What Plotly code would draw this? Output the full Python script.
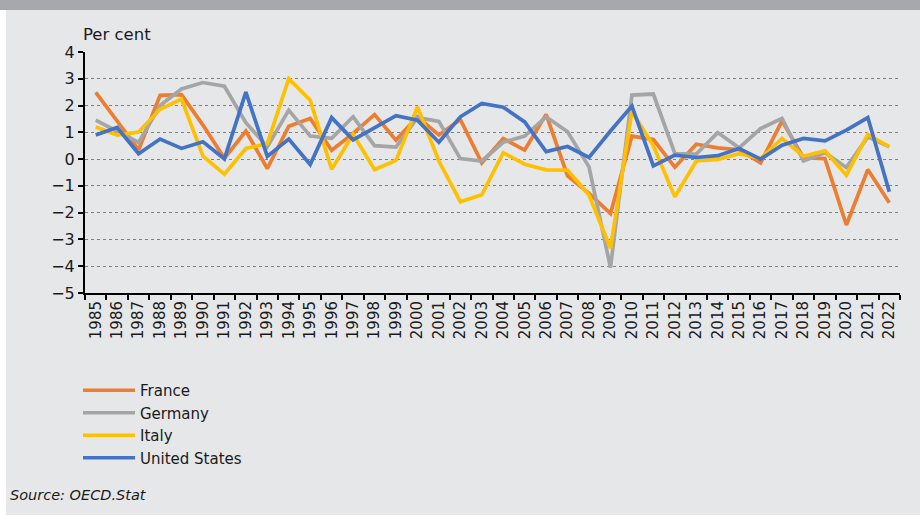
import plotly.graph_objects as go

years = ["1985", "1986", "1987", "1988", "1989", "1990", "1991", "1992", "1993", "1994",
         "1995", "1996", "1997", "1998", "1999", "2000", "2001", "2002", "2003", "2004",
         "2005", "2006", "2007", "2008", "2009", "2010", "2011", "2012", "2013", "2014",
         "2015", "2016", "2017", "2018", "2019", "2020", "2021", "2022"]

france = [2.49, 1.42, 0.35, 2.38, 2.41, 1.27, 0.03, 1.05, -0.35, 1.23,
          1.52, 0.33, 0.96, 1.66, 0.71, 1.58, 0.90, 1.48, -0.14, 0.77,
          0.34, 1.67, -0.63, -1.28, -2.03, 0.86, 0.73, -0.30, 0.56, 0.42,
          0.35, -0.14, 1.43, 0.05, 0.02, -2.46, -0.39, -1.63]

germany = [1.46, 1.05, 0.62, 2.00, 2.62, 2.86, 2.72, 1.36, 0.46, 1.83,
           0.86, 0.78, 1.58, 0.50, 0.45, 1.55, 1.41, 0.02, -0.07, 0.63,
           0.86, 1.58, 1.02, -0.29, -4.05, 2.39, 2.43, 0.21, 0.19, 0.99,
           0.42, 1.14, 1.52, -0.07, 0.24, -0.31, 0.83, 0.46]

italy = [1.20, 0.90, 1.01, 1.86, 2.24, 0.11, -0.56, 0.40, 0.58, 3.00,
         2.20, -0.38, 0.93, -0.39, -0.05, 1.95, -0.07, -1.59, -1.33, 0.24,
         -0.19, -0.40, -0.41, -1.34, -3.33, 1.78, 0.50, -1.41, -0.07, -0.01,
         0.20, 0.02, 0.77, 0.11, 0.31, -0.60, 0.93, 0.46]

united_states = [0.90, 1.18, 0.20, 0.75, 0.40, 0.65, 0.01, 2.50, 0.10, 0.75,
                 -0.20, 1.55, 0.72, 1.18, 1.62, 1.45, 0.63, 1.58, 2.08, 1.94,
                 1.39, 0.28, 0.47, 0.06, 1.05, 1.98, -0.25, 0.15, 0.06, 0.13,
                 0.40, 0.00, 0.52, 0.77, 0.68, 1.08, 1.55, -1.22]

series_names = ["France", "Germany", "Italy", "United States"]
series_values = [france, germany, italy, united_states]
series_colors = ["#ED7D31", "#A5A5A5", "#FFC000", "#4472C4"]

y_ticks = [4, 3, 2, 1, 0, -1, -2, -3, -4, -5]

FONT = "'DejaVu Sans', sans-serif"
TEXT = "#1a1a1a"

W, H = 920, 521
L, R, T, B = 85, 20, 52, 228

fig = go.Figure()
for name, vals, col in zip(series_names, series_values, series_colors):
    fig.add_trace(go.Scatter(x=years, y=vals, name=name, mode="lines",
                             line=dict(color=col, width=3.7)))

pw = W - L - R
ph = H - T - B


def px_x(x):
    return (x - L) / pw


def px_y(y):
    return (H - B - y) / ph


fig.update_layout(
    width=W, height=H,
    margin=dict(l=L, r=R, t=T, b=B, pad=0, autoexpand=False),
    paper_bgcolor="white",
    plot_bgcolor="rgba(0,0,0,0)",
    font=dict(family=FONT, size=15, color=TEXT),
    showlegend=True,
    legend=dict(x=px_x(78), y=px_y(374), xanchor="left", yanchor="top",
                bgcolor="rgba(0,0,0,0)", font=dict(size=15, color=TEXT),
                traceorder="normal", itemwidth=52, tracegroupgap=0),
    shapes=[
        dict(type="rect", xref="paper", yref="paper", layer="below",
             x0=px_x(6), x1=px_x(W), y0=px_y(515), y1=px_y(10),
             fillcolor="#e6e7e9", line=dict(width=0)),
        dict(type="rect", xref="paper", yref="paper", layer="below",
             x0=px_x(0), x1=px_x(W), y0=px_y(10), y1=px_y(0),
             fillcolor="#a7a8ac", line=dict(width=0)),
    ],
    annotations=[
        dict(text="Per cent", xref="paper", yref="paper", x=px_x(81), y=px_y(34),
             xanchor="left", yanchor="middle", showarrow=False,
             font=dict(size=16.5, color=TEXT)),
        dict(text="<i>Source: OECD.Stat</i>", xref="paper", yref="paper",
             x=px_x(8), y=px_y(495), xanchor="left", yanchor="middle",
             showarrow=False, font=dict(size=14.5, color=TEXT)),
    ],
)

fig.update_xaxes(
    type="category", range=[-0.5, len(years) - 0.5],
    tickmode="array", tickvals=years, ticktext=years,
    tickangle=-90, tickson="boundaries", ticks="outside", ticklen=5,
    tickwidth=1.5, tickcolor="black",
    showline=True, linecolor="black", linewidth=2,
    showgrid=False, zeroline=False, tickfont=dict(size=15, color=TEXT),
)

fig.update_yaxes(
    range=[-5, 4], tickmode="array", tickvals=y_ticks,
    ticks="outside", ticklen=5, tickwidth=1.5, tickcolor="black",
    showline=True, linecolor="black", linewidth=2,
    showgrid=True, gridcolor="#7f7f7f", gridwidth=1, griddash="dot",
    zeroline=False, tickfont=dict(size=16, color=TEXT),
)

fig.write_html("out.html",
               config={"displayModeBar": False},
               post_script="document.body.style.margin='0';document.body.style.overflow='hidden';")
